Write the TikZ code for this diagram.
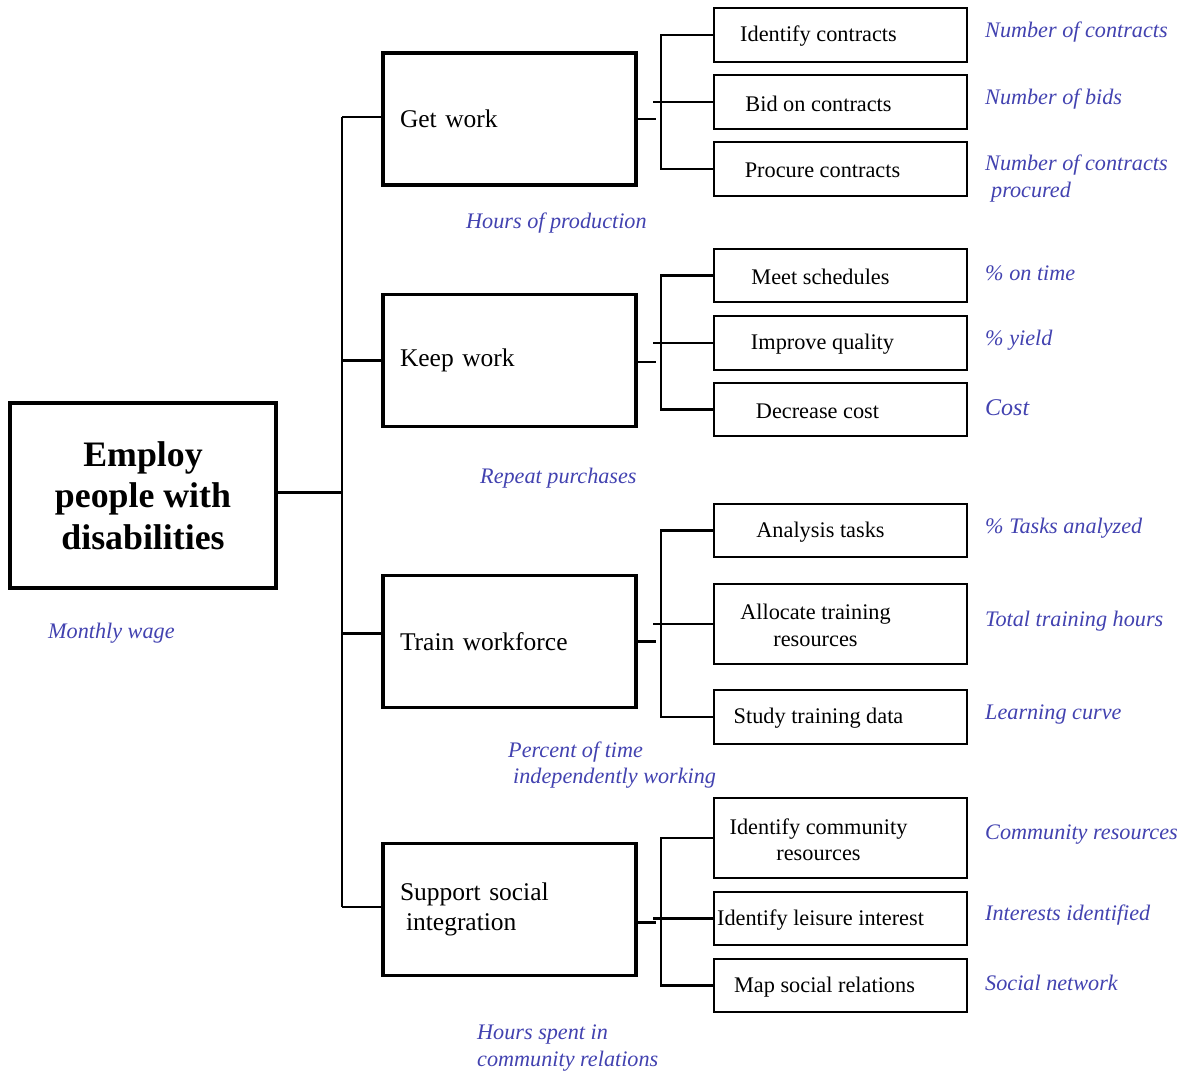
\documentclass[tikz,border=0pt]{standalone}
\usepackage{fontspec}
\setmainfont{Liberation Serif}
\definecolor{metric}{RGB}{66,66,176}
\begin{document}
\begin{tikzpicture}[x=1pt,y=-1pt,
  conn/.style={draw=black,line width=2.1pt},
  rootbox/.style={draw=black,line width=3.8pt,minimum width=266pt,minimum height=185pt,align=center,
    font=\fontsize{35.8}{41.5}\selectfont\bfseries,inner sep=0pt},
  lonebox/.style={draw=black,line width=3.8pt,minimum width=253pt,minimum height=132pt,
    text width=219pt,inner xsep=17pt,align=left,font=\fontsize{25.5}{30}\selectfont},
  ltwobox/.style={draw=black,line width=1.9pt,minimum width=253pt,inner sep=0pt},
  ltwotext/.style={align=center,font=\fontsize{22.3}{26.5}\selectfont,inner sep=0pt,yshift=-1.5pt},
  metricl/.style={anchor=west,align=left,inner sep=0pt,text=metric,yshift=-2pt,
    font=\fontsize{22.2}{26.5}\selectfont\itshape}]
\useasboundingbox (0,0) rectangle (1186,1071);

% root
\node[rootbox] (root) at (143,495.5) {Employ\\people with\\disabilities};
\node[metricl] (mroot) at (48,631) {Monthly wage};

% level 1
\node[lonebox] (gw) at (509.5,119) {Get work};
\node[lonebox] (kw) at (509.5,360.5) {Keep work};
\node[lonebox] (tw) at (509.5,641.5) {Train workforce};
\node[lonebox] (si) at (509.5,909.5) {Support social\\\hspace*{6pt}integration};

\node[metricl] (mgw) at (466,221) {Hours of production};
\node[metricl] (mkw) at (480,476) {Repeat purchases};
\node[metricl] (mtw) at (508,763) {Percent of time\\\hspace*{5pt}independently working};
\node[metricl] (msi) at (477,1046) {Hours spent in\\community relations};

% trunk
\coordinate (tx) at (342,0);
\draw[conn] ([yshift=3pt]root.east) -- ([yshift=3pt]root.east -| tx);
\draw[conn] ([yshift=2pt]gw.west -| tx) -- ([yshift=2.5pt]si.west -| tx);
\draw[conn] ([yshift=2pt]gw.west) -- ([yshift=2pt]gw.west -| tx);
\draw[conn] (kw.west) -- (kw.west -| tx);
\draw[conn] ([yshift=8pt]tw.west) -- ([yshift=8pt]tw.west -| tx);
\draw[conn] ([yshift=2.5pt]si.west) -- ([yshift=2.5pt]si.west -| tx);

% level 2 boxes
\node[ltwobox,minimum height=54pt] (a1) at (840.5,35) {};
\node[ltwobox,minimum height=54pt] (a2) at (840.5,102) {};
\node[ltwobox,minimum height=54pt] (a3) at (840.5,169) {};
\node[ltwobox,minimum height=53pt] (b1) at (840.5,275.5) {};
\node[ltwobox,minimum height=54pt] (b2) at (840.5,343) {};
\node[ltwobox,minimum height=53pt] (b3) at (840.5,409.5) {};
\node[ltwobox,minimum height=53pt] (c1) at (840.5,530.5) {};
\node[ltwobox,minimum height=80pt] (c2) at (840.5,624) {};
\node[ltwobox,minimum height=54pt] (c3) at (840.5,717) {};
\node[ltwobox,minimum height=80pt] (d1) at (840.5,838) {};
\node[ltwobox,minimum height=53pt] (d2) at (840.5,918.5) {};
\node[ltwobox,minimum height=53pt] (d3) at (840.5,985.5) {};

% level 2 texts
\node[ltwotext] (ta1) at ([xshift=-22pt]a1.center) {Identify contracts};
\node[ltwotext] (ta2) at ([xshift=-22pt]a2.center) {Bid on contracts};
\node[ltwotext] (ta3) at ([xshift=-18pt]a3.center) {Procure contracts};
\node[ltwotext] (tb1) at ([xshift=-20pt]b1.center) {Meet schedules};
\node[ltwotext] (tb2) at ([xshift=-18pt]b2.center) {Improve quality};
\node[ltwotext] (tb3) at ([xshift=-23pt]b3.center) {Decrease cost};
\node[ltwotext] (tc1) at ([xshift=-20pt]c1.center) {Analysis tasks};
\node[ltwotext] (tc2) at ([xshift=-25pt]c2.center) {Allocate training\\resources};
\node[ltwotext] (tc3) at ([xshift=-22pt]c3.center) {Study training data};
\node[ltwotext] (td1) at ([xshift=-22pt]d1.center) {Identify community\\resources};
\node[ltwotext] (td2) at ([xshift=-20pt]d2.center) {Identify leisure interest};
\node[ltwotext] (td3) at ([xshift=-16pt]d3.center) {Map social relations};

% metrics
\node[metricl] (ma1) at (985,30) {Number of contracts};
\node[metricl] (ma2) at (985,97) {Number of bids};
\node[metricl] (ma3) at (985,176.5) {Number of contracts\\\hspace*{6pt}procured};
\node[metricl] (mb1) at (985,271) {\% on time};
\node[metricl] (mb2) at (985,338) {\% yield};
\node[metricl,font=\fontsize{24}{27}\selectfont\itshape] (mb3) at (985,406) {Cost};
\node[metricl] (mc1) at (985,526) {\% Tasks analyzed};
\node[metricl] (mc2) at (985,619) {Total training hours};
\node[metricl] (mc3) at (985,713) {Learning curve};
\node[metricl] (md1) at (985,833) {Community resources};
\node[metricl] (md2) at (985,913) {Interests identified};
\node[metricl] (md3) at (985,981) {Social network};

% branches
\coordinate (bx) at (661,0);
\foreach \p/\t/\m/\b/\sy in {gw/a1/a2/a3/0, kw/b1/b2/b3/-1.5, tw/c1/c2/c3/0, si/d1/d2/d3/-13} {
  \draw[conn] ([yshift=\sy pt]\p.east) -- ++(18,0);
  \draw[conn] (\t.west) -- (\t.west -| bx) -- (\b.west -| bx) -- (\b.west);
  \draw[conn] ([xshift=-8pt]\m.west -| bx) -- (\m.west);
}
\end{tikzpicture}
\end{document}
